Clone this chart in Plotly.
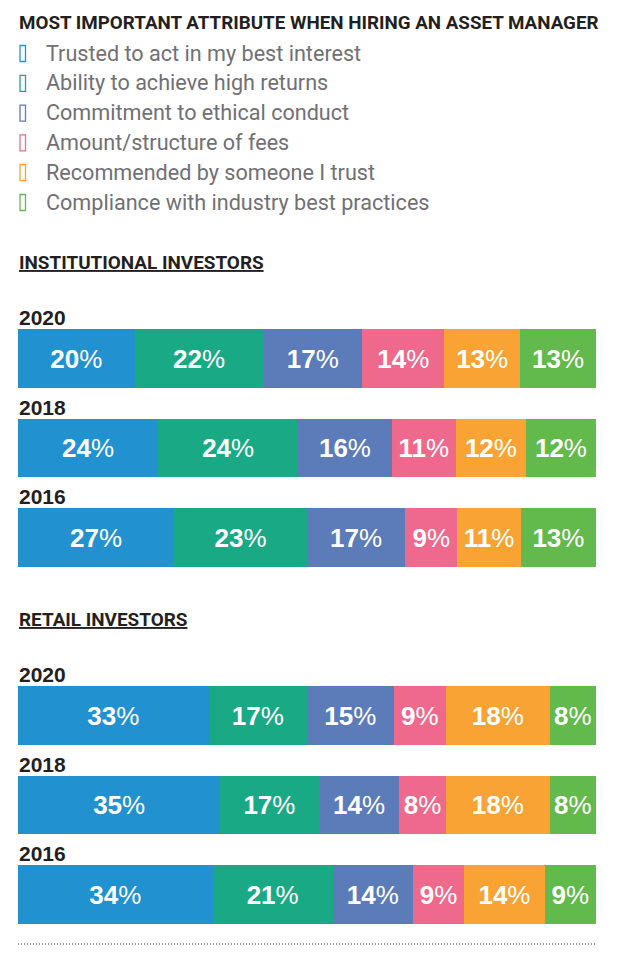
import plotly.graph_objects as go

# page body has an 8px default margin; the figure is sized to fit inside the window
OFF = 8
W, H = 630 - 2 * OFF, 954 - 2 * OFF

# ---------------- data ----------------
title = "MOST IMPORTANT ATTRIBUTE WHEN HIRING AN ASSET MANAGER"
attributes = [
    "Trusted to act in my best interest",
    "Ability to achieve high returns",
    "Commitment to ethical conduct",
    "Amount/structure of fees",
    "Recommended by someone I trust",
    "Compliance with industry best practices",
]
colors = ["#2191d0", "#1aa985", "#5b7bb9", "#ee698c", "#f8a334", "#62b94c"]
years = ["2020", "2018", "2016"]

institutional_2020 = [20, 22, 17, 14, 13, 13]
institutional_2018 = [24, 24, 16, 11, 12, 12]
institutional_2016 = [27, 23, 17, 9, 11, 13]

retail_2020 = [33, 17, 15, 9, 18, 8]
retail_2018 = [35, 17, 14, 8, 18, 8]
retail_2016 = [34, 21, 14, 9, 14, 9]

institutional = [institutional_2020, institutional_2018, institutional_2016]
retail = [retail_2020, retail_2018, retail_2016]

# ---------------- helpers (reference-window pixels -> paper) ----------------
def px(x):
    return (x - OFF) / W

def py(y):
    return 1 - (y - OFF) / H

HEAD_FONT = "Roboto"
BOLD = "Liberation Sans"
LEGEND_FONT = "Roboto"
DARK = "#231f20"
GREY = "#707075"

fig = go.Figure()

for group, yaxis in ((institutional, "y"), (retail, "y2")):
    for i, name in enumerate(attributes):
        vals = [row[i] for row in group]
        fig.add_trace(go.Bar(
            y=years,
            x=vals,
            orientation="h",
            name=name,
            xaxis="x",
            yaxis=yaxis,
            marker=dict(color=colors[i], line=dict(width=0)),
            text=[f"<b>{v}</b>%" for v in vals],
            textposition="inside",
            insidetextanchor="middle",
            textangle=0,
            constraintext="none",
            textfont=dict(family=BOLD, size=26, color="white"),
            showlegend=False,
            hoverinfo="skip",
        ))

slot = 89.5

def ydomain(center_top, center_bottom):
    top = center_top - slot / 2
    bottom = center_bottom + slot / 2
    return [py(bottom), py(top)]

axis_common = dict(
    type="category",
    categoryorder="array",
    categoryarray=years,
    range=[2.5, -0.5],
    autorange=False,
    visible=False,
    fixedrange=True,
)

fig.update_layout(
    width=W,
    height=H,
    margin=dict(l=0, r=0, t=0, b=0),
    paper_bgcolor="white",
    plot_bgcolor="white",
    barmode="stack",
    barnorm="percent",
    bargap=0.341,
    xaxis=dict(domain=[px(18), px(596)], range=[0, 100], visible=False, fixedrange=True),
    yaxis=dict(domain=ydomain(358.5, 537.5), anchor="x", **axis_common),
    yaxis2=dict(domain=ydomain(715.5, 894.5), anchor="x", **axis_common),
)

ann = []
ann.append(dict(text=f"<b>{title}</b>", x=px(17), y=py(23), xref="paper", yref="paper",
                xanchor="left", yanchor="middle", showarrow=False,
                font=dict(family=HEAD_FONT, size=18.8, color=DARK)))

shapes = []
for i, name in enumerate(attributes):
    yc = 53 + 29.8 * i
    ann.append(dict(text=name, x=px(44), y=py(yc), xref="paper", yref="paper",
                    xanchor="left", yanchor="middle", showarrow=False,
                    font=dict(family=LEGEND_FONT, size=21.6, color=GREY)))
    shapes.append(dict(type="rect", xref="paper", yref="paper",
                       x0=px(20), x1=px(25.5), y0=py(yc - 7.5), y1=py(yc + 8.5),
                       line=dict(color=colors[i], width=1.3), fillcolor="rgba(0,0,0,0)"))

for text, yc in (("INSTITUTIONAL INVESTORS", 262), ("RETAIL INVESTORS", 619)):
    ann.append(dict(text=f"<b><u>{text}</u></b>", x=px(17), y=py(yc), xref="paper", yref="paper",
                    xanchor="left", yanchor="middle", showarrow=False,
                    font=dict(family=HEAD_FONT, size=18.9, color=DARK)))

# year labels sit just above each bar (category index on the category axis)
for yref in ("y", "y2"):
    for j, yr in enumerate(years):
        ann.append(dict(text=f"<b>{yr}</b>", x=px(17), y=j, xref="paper", yref=yref,
                        xanchor="left", yanchor="middle", yshift=41, showarrow=False,
                        font=dict(family=BOLD, size=21, color=DARK)))

shapes.append(dict(type="line", xref="paper", yref="paper", x0=px(18), x1=px(596),
                   y0=py(944), y1=py(944), line=dict(color="#333333", width=1, dash="1px,2px")))

fig.update_layout(annotations=ann, shapes=shapes)

fig.write_html("out.html")
